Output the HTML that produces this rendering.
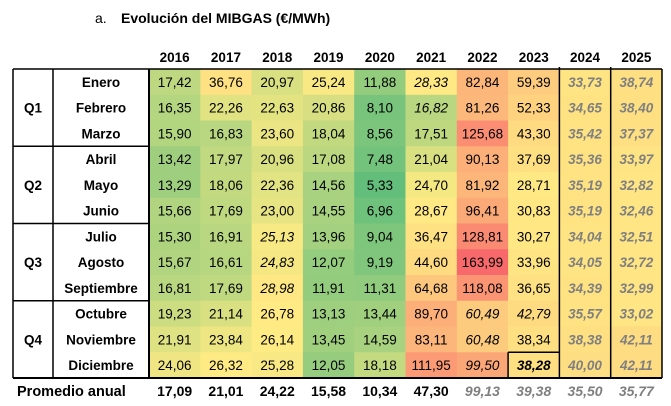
<!DOCTYPE html>
<html><head><meta charset="utf-8">
<style>
body{margin:0;background:#fff;width:671px;height:406px;overflow:hidden;font-family:"Liberation Sans",sans-serif}
svg{display:block}
</style></head><body>
<svg id="c" width="671" height="406">
<text x="95" y="23" font-size="14" fill="#000">a.</text>
<text x="121" y="23" font-size="14" font-weight="bold" fill="#000">Evolución del MIBGAS (€/MWh)</text>
</svg>
<script>
const years=["2016","2017","2018","2019","2020","2021","2022","2023","2024","2025"];
const months=["Enero","Febrero","Marzo","Abril","Mayo","Junio","Julio","Agosto","Septiembre","Octubre","Noviembre","Diciembre"];
const quarters=["Q1","Q2","Q3","Q4"];
const v2016=[17.42,16.35,15.90,13.42,13.29,15.66,15.30,15.67,16.81,19.23,21.91,24.06];
const v2017=[36.76,22.26,16.83,17.97,18.06,17.69,16.91,16.61,17.69,21.14,23.84,26.32];
const v2018=[20.97,22.63,23.60,20.96,22.36,23.00,25.13,24.83,28.98,26.78,26.14,25.28];
const v2019=[25.24,20.86,18.04,17.08,14.56,14.55,13.96,12.07,11.91,13.13,13.45,12.05];
const v2020=[11.88,8.10,8.56,7.48,5.33,6.96,9.04,9.19,11.31,13.44,14.59,18.18];
const v2021=[28.33,16.82,17.51,21.04,24.70,28.67,36.47,44.60,64.68,89.70,83.11,111.95];
const v2022=[82.84,81.26,125.68,90.13,81.92,96.41,128.81,163.99,118.08,60.49,60.48,99.50];
const v2023=[59.39,52.33,43.30,37.69,28.71,30.83,30.27,33.96,36.65,42.79,38.34,38.28];
const v2024=[33.73,34.65,35.42,35.36,35.19,35.19,34.04,34.05,34.39,35.57,38.38,40.00];
const v2025=[38.74,38.40,37.37,33.97,32.82,32.46,32.51,32.72,32.99,33.02,42.11,42.11];
const averages=[17.09,21.01,24.22,15.58,10.34,47.30,99.13,39.38,35.50,35.77];
const series=[v2016,v2017,v2018,v2019,v2020,v2021,v2022,v2023,v2024,v2025];
const italicCells=[[5,0],[5,1],[2,6],[2,7],[2,8],[6,9],[6,10],[6,11],[7,9],[7,11]];

const svg=document.getElementById('c');
const NS='http://www.w3.org/2000/svg';
const X0=149,CW=51.3,Y0=69,RH=25.75;
const xs=i=>X0+i*CW, ys=j=>Y0+j*RH;
const all=[].concat(...series).slice().sort((a,b)=>a-b);
const mn=all[0],mx=all[all.length-1],md=(all[59]+all[60])/2;
function lerp(a,b,t){return a.map((v,i)=>Math.round(v+(b[i]-v)*t));}
function color(v){const G=[99,190,123],Y=[255,235,132],R=[248,105,107];
 let c=v<=md?lerp(G,Y,(v-mn)/(md-mn)):lerp(Y,R,(v-md)/(mx-md));return `rgb(${c.join(',')})`;}
function el(t,a,txt){const e=document.createElementNS(NS,t);for(const k in a)e.setAttribute(k,a[k]);if(txt!==undefined)e.textContent=txt;svg.appendChild(e);return e;}
const fmt=v=>v.toFixed(2).replace('.',',');

years.forEach((y,i)=>{
 const t=el('text',{x:xs(i)+CW/2,y:62,'font-size':13.5,'font-weight':'bold','text-anchor':'middle'},y);
 
 
});
series.forEach((col,i)=>{col.forEach((v,j)=>{
 const r=el('rect',{x:xs(i),y:ys(j),width:CW+0.5,height:RH+0.5,fill:color(v)});
 
 
 const fut=i>=8, it=italicCells.some(p=>p[0]===i&&p[1]===j), bd=(i===7&&j===11);
 const t=el('text',{x:xs(i)+CW/2,y:ys(j)+RH/2+5,'font-size':13.5,'text-anchor':'middle',
  fill:fut?'#7f7f7f':'#000','font-style':(fut||it||bd)?'italic':'normal','font-weight':(fut||bd)?'bold':'normal'},fmt(v));
 
 
});});
months.forEach((m,j)=>{
 const t=el('text',{x:101,y:ys(j)+RH/2+5,'font-size':13.5,'font-weight':'bold','text-anchor':'middle'},m);
 
 
});
quarters.forEach((q,k)=>{
 const t=el('text',{x:33,y:ys(k*3)+RH*1.5+5,'font-size':13.5,'font-weight':'bold','text-anchor':'middle'},q);
 
 
});
averages.forEach((v,i)=>{
 const fut=i>=6;
 const t=el('text',{x:xs(i)+CW/2,y:396,'font-size':14,'font-weight':'bold','text-anchor':'middle',fill:fut?'#7f7f7f':'#000','font-style':fut?'italic':'normal'},fmt(v));
 
 
});
const pl=el('text',{x:17,y:396,'font-size':14.5,'font-weight':'bold'},'Promedio anual');



const bottom=ys(12),right=xs(10);
function line(x1,y1,x2,y2,w){const l=el('line',{x1,y1,x2,y2,stroke:'#000','stroke-width':w||1.5});
 
 }
line(13,Y0,right,Y0);line(13,bottom,right,bottom,2);
line(13,Y0,13,bottom);line(53,Y0,53,bottom);line(X0,Y0,X0,bottom,2);line(right,Y0,right,bottom);
for(let k=1;k<4;k++)line(13,ys(k*3),X0,ys(k*3));
line(xs(8),Y0-2,xs(8),bottom);line(xs(9),Y0-2,xs(9),bottom);
line(xs(7),ys(11),xs(8),ys(11));line(xs(7),ys(11),xs(7),bottom);
</script>
</body></html>
